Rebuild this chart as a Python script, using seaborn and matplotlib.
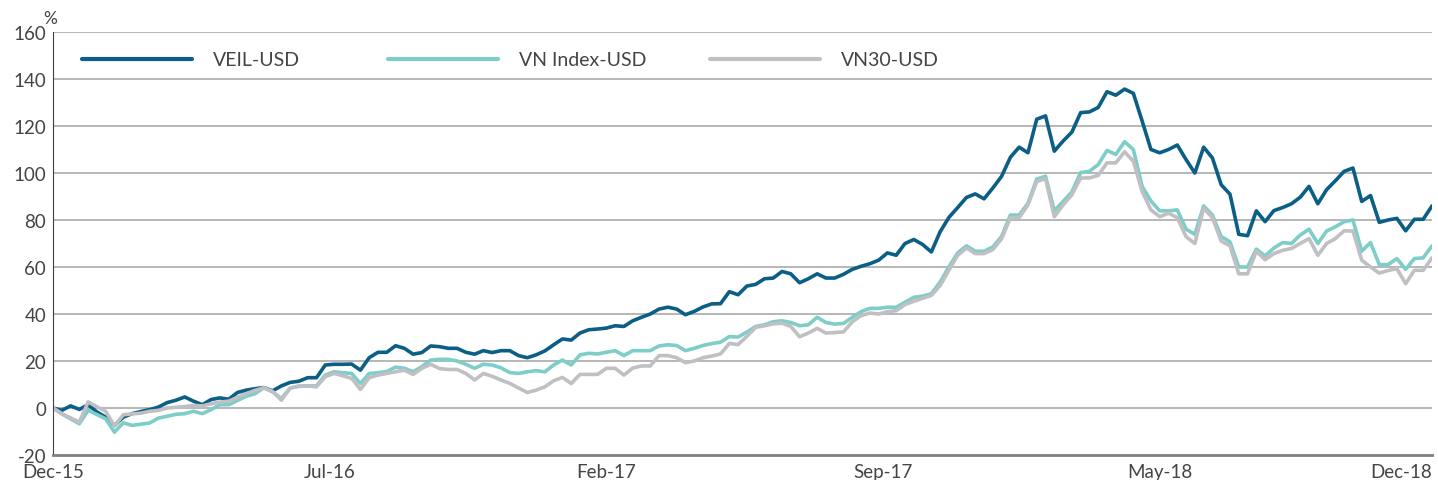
import numpy as np
import pandas as pd
import matplotlib
matplotlib.use("Agg")
import matplotlib.pyplot as plt
from matplotlib.legend import Legend
import seaborn as sns

# Performance cumulee en USD (%), donnees hebdomadaires Dec-15 -> Dec-18
veil_usd = [
    0, -1, 0.9, -0.6, 1.4, -1.7, -3.9, -7.4, -3.9, -2.4,
    -1.5, -0.7, 0.4, 2.3, 3.3, 4.7, 2.9, 1.4, 3.6, 4.3,
    3.7, 6.6, 7.6, 8.2, 8.7, 7.3, 9.4, 10.9, 11.4, 12.9,
    12.9, 18.3, 18.6, 18.6, 18.7, 16.1, 21.4, 23.7, 23.7, 26.5,
    25.4, 22.9, 23.6, 26.4, 26.1, 25.4, 25.4, 23.7, 22.9, 24.4,
    23.6, 24.4, 24.4, 22.3, 21.4, 22.6, 24.3, 26.9, 29.4, 28.9,
    31.9, 33.3, 33.6, 34, 35, 34.7, 37.1, 38.6, 40, 42.1,
    42.9, 42.1, 39.7, 41.1, 43, 44.3, 44.4, 49.5, 48.2, 51.9,
    52.6, 55, 55.3, 58.1, 57.1, 53.3, 55, 57.1, 55.3, 55.3,
    56.9, 59, 60.3, 61.4, 62.9, 66, 65, 70, 71.7, 69.6,
    66.4, 75, 81.1, 85.3, 89.6, 91.1, 89, 93.6, 98.6, 106.7,
    111, 108.6, 122.9, 124.3, 109.3, 113.6, 117.4, 125.7, 126, 127.9,
    134.6, 133.1, 135.7, 133.9, 122.1, 110, 108.6, 110, 111.9, 105.7,
    100, 111, 106.4, 95, 91, 73.9, 73.3, 83.9, 79.3, 84,
    85.3, 86.9, 89.7, 94.3, 86.9, 92.9, 96.7, 100.7, 102.1, 87.9,
    90.4, 79, 80, 80.7, 75.4, 80.3, 80.3, 86,
]

vn_index_usd = [
    0, -2.5, -4.6, -6.7, -1, -2.8, -4.6, -10.3, -6.3, -7.4,
    -6.9, -6.4, -4.3, -3.5, -2.7, -2.4, -1.4, -2.4, -0.7, 1.4,
    1.4, 3.2, 5, 6.1, 8.6, 6.9, 4, 8.5, 9.2, 9.4,
    9.4, 14, 15.4, 15, 14.7, 10.4, 14.7, 15, 15.5, 17.4,
    16.9, 15.4, 17.6, 20.4, 20.7, 20.7, 20, 18.6, 16.9, 18.6,
    18.3, 17.1, 15.1, 14.7, 15.4, 15.9, 15.4, 18.3, 20.4, 18.3,
    22.6, 23.3, 23, 23.7, 24.4, 22.3, 24.4, 24.4, 24.4, 26.4,
    26.9, 26.6, 24.4, 25.4, 26.6, 27.4, 28, 30.4, 30.2, 32.3,
    34.7, 35.4, 36.7, 37.1, 36.4, 35, 35.4, 38.6, 36.4, 35.7,
    36, 38.6, 41, 42.4, 42.4, 42.9, 42.9, 45, 47.1, 47.6,
    48.6, 53.6, 60, 66, 69, 66.7, 66.7, 68.5, 73, 82.1,
    82.1, 87.1, 97.4, 98.6, 83.9, 87.9, 91.9, 100.2, 100.7, 103.6,
    109.6, 107.9, 113.3, 110, 94.3, 88.1, 83.9, 83.9, 84.3, 76.1,
    73.9, 86, 82.1, 72.9, 70.7, 60, 60, 67.6, 64.7, 68.1,
    70.4, 70, 73.6, 76.1, 70, 75.3, 77.1, 79.3, 80, 66.7,
    70.4, 61, 61, 63.6, 59, 63.6, 63.9, 69,
]

vn30_usd = [
    0, -2.4, -4.2, -6, 2.6, 0.5, -1.4, -7.7, -2.9, -2.5,
    -2.2, -1.4, -1, 0, 0.3, 0.6, 1.1, 0.9, 1.8, 2.5,
    2.9, 4.5, 6.1, 7.5, 8.6, 7, 3.3, 8.5, 9.4, 9.4,
    9, 13.3, 14.7, 13.7, 12.6, 7.9, 12.9, 14, 14.7, 15.4,
    16.1, 14.3, 16.9, 18.6, 16.8, 16.4, 16.4, 14.7, 11.9, 14.7,
    13.5, 11.9, 10.5, 8.5, 6.6, 7.6, 9, 11.6, 13, 10.4,
    14.3, 14.3, 14.3, 16.9, 16.9, 14, 17, 17.9, 17.9, 22.3,
    22.3, 21.4, 19.3, 20, 21.4, 22.1, 23, 27.5, 27, 30.5,
    34.3, 35, 35.8, 36.1, 34.7, 30.3, 31.9, 33.9, 31.9, 32.1,
    32.4, 36.7, 39.3, 40.4, 40, 41, 41.4, 44, 45.4, 46.7,
    47.9, 52.1, 58.6, 65, 68.1, 65.7, 65.7, 67.4, 72, 81,
    81, 86.4, 96.4, 97.6, 81.4, 86.4, 90.7, 97.9, 97.9, 99,
    104.3, 104.3, 109, 105, 92.1, 84.3, 81.4, 82.9, 81, 72.9,
    70, 85, 81, 71, 69, 57.1, 57.1, 66.7, 63.1, 65.7,
    67.1, 67.9, 70, 72.1, 65, 70, 72.1, 75.4, 75.3, 62.9,
    60, 57.4, 58.5, 59.3, 52.9, 58.6, 58.6, 63.9,
]

series_names = ["VEIL-USD", "VN Index-USD", "VN30-USD"]
series_colors = ["#0b5e86", "#7dcdc8", "#c0c0c4"]

x_tick_labels = ["Dec-15", "Jul-16", "Feb-17", "Sep-17", "May-18", "Dec-18"]
x_tick_pos = [0, 31.5, 63, 94.5, 126, 157]
y_ticks = list(range(-20, 161, 20))

weeks = np.arange(len(veil_usd))
df = pd.DataFrame({
    "week": np.tile(weeks, 3),
    "value": veil_usd + vn_index_usd + vn30_usd,
    "serie": np.repeat(series_names, len(weeks)),
})

sns.set_style("white")
plt.rcParams["font.family"] = ["Lato", "DejaVu Sans"]
txt_color = "#444444"

fig = plt.figure(figsize=(14.38, 4.81), dpi=100)
ax = fig.add_axes([53 / 1438, 25 / 481, 1379 / 1438, 423 / 481])

# grille horizontale derriere les courbes
for yv in y_ticks[1:]:
    ax.axhline(yv, color="#a3a3a3", lw=1.1, zorder=0)

sns.lineplot(data=df, x="week", y="value", hue="serie", hue_order=series_names,
             palette=series_colors, linewidth=2.6, sort=False, estimator=None,
             legend=False, ax=ax)

ax.set_xlim(0, len(veil_usd) - 1)
ax.set_ylim(-20, 160)
ax.set_yticks(y_ticks)
ax.set_yticklabels([str(v) for v in y_ticks])
ax.set_xticks(x_tick_pos)
ax.set_xticklabels(x_tick_labels)
ax.set_xlabel("")
ax.set_ylabel("")

for s in ["top", "right"]:
    ax.spines[s].set_visible(False)
ax.spines["left"].set_color("#404040")
ax.spines["left"].set_linewidth(0.8)
ax.spines["bottom"].set_color("#7f7f7f")
ax.spines["bottom"].set_linewidth(2.0)

ax.tick_params(axis="y", direction="out", length=4, width=0.8, color="#404040",
               labelsize=13.5, labelcolor=txt_color, pad=1)
ax.tick_params(axis="x", direction="in", length=5, width=0.8, color="#404040",
               labelsize=13.5, labelcolor=txt_color, pad=6)
ax.get_xticklabels()[-1].set_horizontalalignment("right")

fig.text(50 / 1438, 1 - 19 / 481, "%", ha="center", va="center",
         fontsize=12.5, color=txt_color)

# une legende par serie, placee comme dans l'original
legend_x_px = [82, 388, 710]
for name, col, xpx in zip(series_names, series_colors, legend_x_px):
    h = plt.Line2D([], [], color=col, lw=3)
    leg = Legend(ax, [h], [name], loc="center left",
                 bbox_to_anchor=((xpx - 53) / 1379, (456 - 61) / 423),
                 frameon=False, fontsize=14, handlelength=5.65,
                 handletextpad=1.08, borderpad=0, borderaxespad=0)
    for t in leg.get_texts():
        t.set_color(txt_color)
    ax.add_artist(leg)

fig.savefig("out.png", dpi=100)
